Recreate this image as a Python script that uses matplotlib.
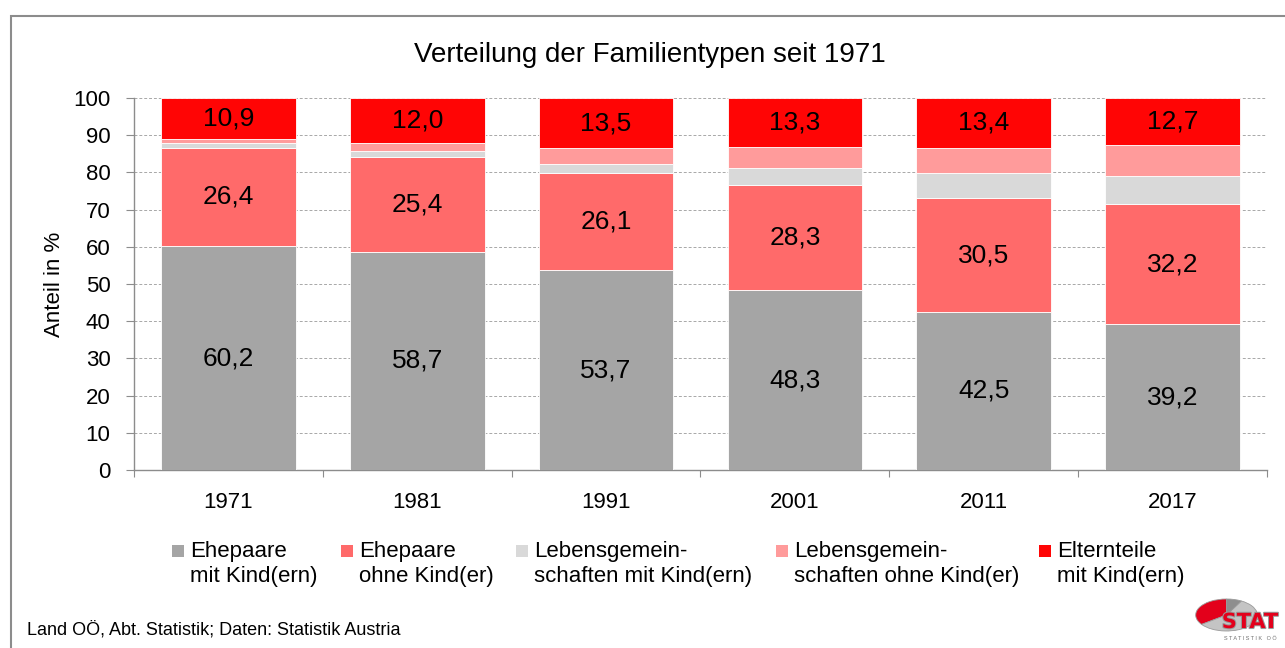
import matplotlib
matplotlib.use('Agg')
import matplotlib.pyplot as plt
from matplotlib.patches import Rectangle
import matplotlib.patheffects as pe
import numpy as np

plt.rcParams['font.family'] = ['Liberation Sans Narrow', 'Liberation Sans', 'DejaVu Sans']

# data
years = ["1971", "1981", "1991", "2001", "2011", "2017"]
ehe_mit = [60.2, 58.7, 53.7, 48.3, 42.5, 39.2]
ehe_ohne = [26.4, 25.4, 26.1, 28.3, 30.5, 32.2]
lg_mit = [1.3, 1.7, 2.5, 4.7, 6.8, 7.7]
lg_ohne = [1.2, 2.2, 4.2, 5.4, 6.8, 8.2]
eltern = [10.9, 12.0, 13.5, 13.3, 13.4, 12.7]
series = [ehe_mit, ehe_ohne, lg_mit, lg_ohne, eltern]
labels = ["Ehepaare\nmit Kind(ern)", "Ehepaare\nohne Kind(er)",
          "Lebensgemein-\nschaften mit Kind(ern)", "Lebensgemein-\nschaften ohne Kind(er)",
          "Elternteile\nmit Kind(ern)"]
colors = ["#A5A5A5", "#FF6A6A", "#D9D9D9", "#FF9B9B", "#FF0505"]
show_label = [True, True, False, False, True]

W, H = 1285, 648
fig = plt.figure(figsize=(W / 100, H / 100), dpi=100)

# outer frame
fig.patches.append(Rectangle((11 / W, -0.1), 1.2, 1.1 - 16 / H, transform=fig.transFigure,
                             fill=False, edgecolor="#8C8C8C", linewidth=1.5))

ax = fig.add_axes([134 / W, 1 - 470 / H, (1267 - 134) / W, (470 - 98) / H])
x = np.arange(len(years))
w = 0.713
bottom = np.zeros(len(years))
for vals, col, show in zip(series, colors, show_label):
  vals = np.array(vals)
  ax.bar(x, vals, w, bottom=bottom, color=col, edgecolor="white", linewidth=0.6, zorder=3)
  if show:
    for xi, b, v in zip(x, bottom, vals):
      ax.text(xi, b + v / 2, f"{v:.1f}".replace(".", ","), ha="center", va="center",
              fontsize=19, color="black", zorder=4)
  bottom += vals

ax.set_xlim(-0.5, len(years) - 0.5)
ax.set_ylim(0, 100)
ax.set_yticks(range(0, 101, 10))
ax.tick_params(axis="y", labelsize=16, length=6, color="#8C8C8C", pad=11)
ax.set_xticks(np.arange(-0.5, len(years), 1))
ax.set_xticklabels([])
ax.set_xticks(x, minor=True)
ax.set_xticklabels(years, minor=True, fontsize=16)
ax.tick_params(axis="x", which="major", length=5, color="#8C8C8C")
ax.tick_params(axis="x", which="minor", length=0, pad=16)
ax.grid(axis="y", linestyle=(0, (3, 2)), color="#A8A8A8", linewidth=0.7, zorder=0)
for s in ["top", "right"]:
  ax.spines[s].set_visible(False)
for s in ["left", "bottom"]:
  ax.spines[s].set_color("#8C8C8C")
  ax.spines[s].set_linewidth(1.0)

fig.text(650 / W, 1 - 55 / H, "Verteilung der Familientypen seit 1971", ha="center", va="center", fontsize=20)
fig.text(55 / W, 1 - 284 / H, "Anteil in %", rotation=90, ha="center", va="center", fontsize=16)

# legend
leg_x = [172, 341, 516, 776, 1039]
for lx, col, lab in zip(leg_x, colors, labels):
  fig.patches.append(Rectangle((lx / W, 1 - 557 / H), 12 / W, 12 / H, transform=fig.transFigure,
                               facecolor=col, edgecolor="none"))
  fig.text((lx + 18) / W, 1 - 541 / H, lab, ha="left", va="top", fontsize=16, linespacing=1.25)

fig.text(27 / W, 1 - 630 / H, "Land OÖ, Abt. Statistik; Daten: Statistik Austria", ha="left", va="center", fontsize=13)

# logo
lax = fig.add_axes([1188 / W, 1 - 635 / H, 77 / W, 40 / H])
lax.pie([35, 57, 8], colors=["#E3001B", "#C4C4C4", "#8E8E8E"], startangle=90, counterclock=True,
        wedgeprops=dict(linewidth=0.6, edgecolor="#9A9A9A"))
lax.set_aspect("auto")
lax.axis("off")
fig.text(1250 / W, 1 - 622 / H, "STAT", ha="center", va="center", fontsize=15, fontweight="bold",
         color="#E3001B", family="DejaVu Sans",
         path_effects=[pe.withStroke(linewidth=1.5, foreground="#9A9A9A")])
fig.text(1250 / W, 1 - 639 / H, "S T A T I S T I K   O Ö", ha="center", va="center", fontsize=4, color="#707070")

fig.savefig("out.png", dpi=100)
